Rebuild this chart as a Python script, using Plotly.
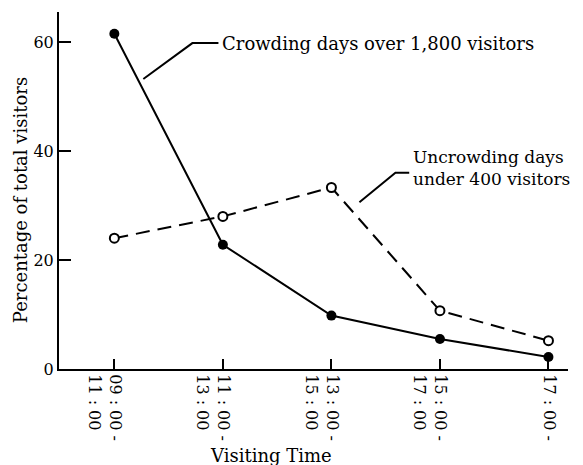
import plotly.graph_objects as go

time_slots = ["09 : 00 -<br>11 : 00", "11 : 00 -<br>13 : 00", "13 : 00 -<br>15 : 00",
              "15 : 00 -<br>17 : 00", "17 : 00 -<br> "]
crowding = [61.5, 22.8, 9.8, 5.5, 2.2]
uncrowding = [24.0, 28.0, 33.3, 10.7, 5.2]

FONT = "DejaVu Serif"
x_idx = list(range(len(time_slots)))

fig = go.Figure()
fig.add_trace(go.Scatter(
    x=x_idx, y=uncrowding, mode="lines+markers",
    line=dict(color="black", width=2, dash="14px,8px"),
    marker=dict(symbol="circle", size=9, color="white", line=dict(color="black", width=2)),
    cliponaxis=False, showlegend=False))
fig.add_trace(go.Scatter(
    x=x_idx, y=crowding, mode="lines+markers",
    line=dict(color="black", width=2),
    marker=dict(symbol="circle", size=10, color="black"),
    cliponaxis=False, showlegend=False))

# leader lines
fig.add_shape(type="path", path="M 0.267 53.2 L 0.719 59.8 L 0.959 59.8",
              line=dict(color="black", width=2), xref="x", yref="y")
fig.add_shape(type="path", path="M 2.258 30.6 L 2.590 36.0 L 2.717 36.0",
              line=dict(color="black", width=2), xref="x", yref="y")

fig.add_annotation(x=0.975, y=59.8, xref="x", yref="y", text="Crowding days over 1,800 visitors",
                   showarrow=False, xanchor="left", yanchor="middle",
                   font=dict(family=FONT, size=18, color="black"))
fig.add_annotation(x=2.735, y=36.8, xref="x", yref="y", text="Uncrowding days<br>under 400 visitors",
                   showarrow=False, xanchor="left", yanchor="middle", align="left",
                   font=dict(family=FONT, size=17, color="black"))
fig.add_annotation(x=-0.66, y=63.3, xref="x", yref="y", text="%",
                   showarrow=False, xanchor="center", yanchor="middle",
                   font=dict(family=FONT, size=15, color="black"))
fig.add_annotation(x=-0.0766, y=0.473, xref="paper", yref="paper",
                   text="Percentage of total visitors", textangle=-90, showarrow=False,
                   xanchor="center", yanchor="middle",
                   font=dict(family=FONT, size=18, color="black"))
fig.add_annotation(x=0.4165, y=-0.241, xref="paper", yref="paper", text="Visiting Time",
                   showarrow=False, xanchor="center", yanchor="middle",
                   font=dict(family=FONT, size=18, color="black"))

fig.update_xaxes(range=[-0.51, 4.18], tickmode="array", tickvals=x_idx, ticktext=time_slots,
                 tickangle=90, ticks="inside", ticklen=10, tickwidth=2, tickcolor="black",
                 showline=True, linecolor="black", linewidth=2, showgrid=False, zeroline=False,
                 ticklabelshift=-10,
                 tickfont=dict(family=FONT, size=16, color="black"))
fig.update_yaxes(range=[0, 65.5], tickvals=[0, 20, 40, 60], ticks="inside", ticklen=12,
                 tickwidth=2, tickcolor="black", showline=True, linecolor="black", linewidth=2,
                 showgrid=False, zeroline=False,
                 tickfont=dict(family=FONT, size=16, color="black"))

# page body adds an 8px offset; margins compensate so the plot area sits as in the reference
fig.update_layout(width=583, height=465, margin=dict(l=51, r=23, t=4, b=104, autoexpand=False),
                  plot_bgcolor="white", paper_bgcolor="white")
fig.write_html("out.html")
